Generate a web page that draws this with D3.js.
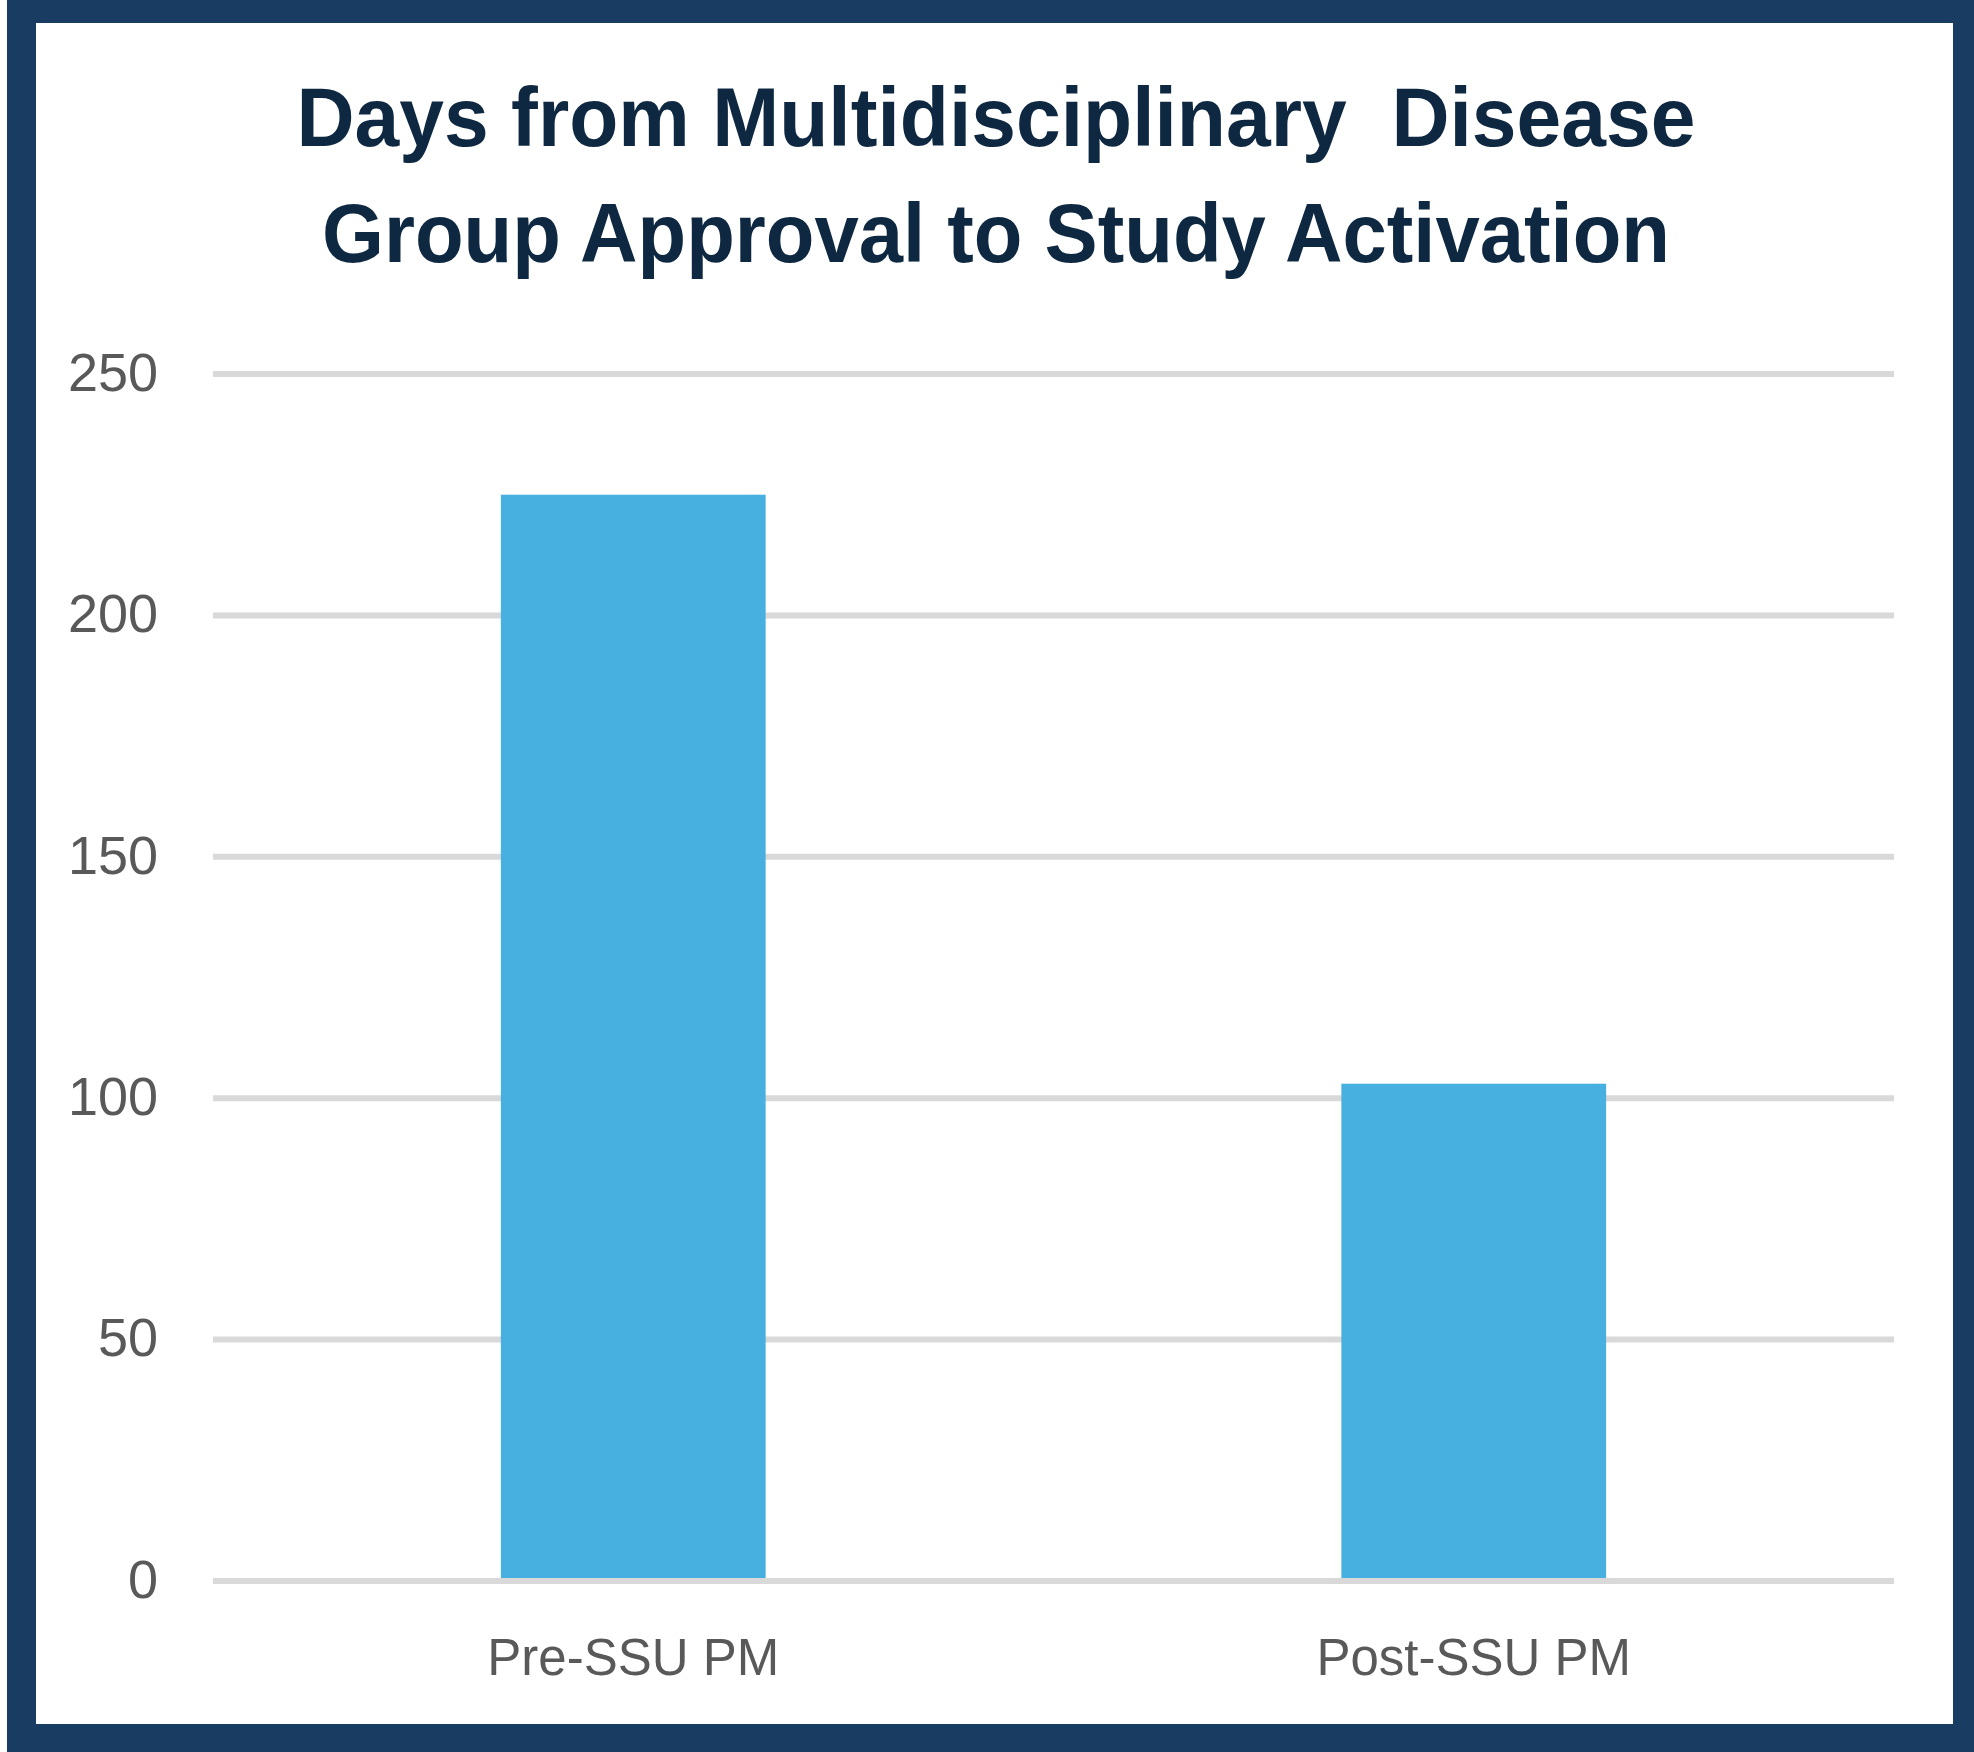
<!DOCTYPE html>
<html>
<head>
<meta charset="utf-8">
<script src="https://cdn.jsdelivr.net/npm/d3@7"></script>
<style>
  html, body { margin: 0; padding: 0; background: #ffffff; }
</style>
</head>
<body>
<div id="plot"></div>
<script>
const categories = ['Pre-SSU PM', 'Post-SSU PM'];
const days = [225, 103];
const yTicks = [0, 50, 100, 150, 200, 250];
const titleLines = ['Days from Multidisciplinary  Disease', 'Group Approval to Study Activation'];
const titleWidths = [1399, 1348];

const width = 1974;
const height = 1752;
const margin = { top: 374, right: 80, bottom: 171, left: 213 };

const svg = d3.select("#plot").append("svg")
  .attr("width", width)
  .attr("height", height);

// frame
svg.append("rect")
  .attr("x", 7).attr("y", 0)
  .attr("width", width - 7).attr("height", height)
  .attr("fill", "#183c62");

svg.append("rect")
  .attr("x", 36).attr("y", 23)
  .attr("width", 1953 - 36).attr("height", 1724 - 23)
  .attr("fill", "#ffffff");

const xScale = d3.scaleBand()
  .domain(categories)
  .range([margin.left, width - margin.right])
  .paddingInner(0.685)
  .paddingOuter(0.3425);

const yScale = d3.scaleLinear()
  .domain([0, 250])
  .range([height - margin.bottom, margin.top]);

// gridlines
svg.append("g")
  .selectAll("line")
  .data(yTicks)
  .enter()
  .append("line")
  .attr("x1", margin.left)
  .attr("x2", width - margin.right)
  .attr("y1", d => yScale(d))
  .attr("y2", d => yScale(d))
  .attr("stroke", "#d9d9d9")
  .attr("stroke-width", 6);

// bars
svg.append("g")
  .selectAll("rect")
  .data(categories)
  .enter()
  .append("rect")
  .attr("x", d => xScale(d))
  .attr("y", (d, i) => yScale(days[i]))
  .attr("width", xScale.bandwidth())
  .attr("height", (d, i) => yScale(0) - 3 - yScale(days[i]))
  .attr("fill", "#47b0e0");

// baseline on top of bars
svg.append("line")
  .attr("x1", margin.left)
  .attr("x2", width - margin.right)
  .attr("y1", yScale(0))
  .attr("y2", yScale(0))
  .attr("stroke", "#d9d9d9")
  .attr("stroke-width", 6);

// y axis labels
const yAxis = d3.axisLeft(yScale)
  .tickValues(yTicks)
  .tickSize(0)
  .tickPadding(55);

const yg = svg.append("g")
  .attr("transform", `translate(${margin.left}, 0)`)
  .call(yAxis);
yg.select(".domain").remove();
yg.selectAll("text")
  .attr("font-family", "Liberation Sans, Arial, sans-serif")
  .attr("font-size", 54)
  .attr("fill", "#595959")
  .attr("dy", "0.3em");

// x axis labels
const xAxis = d3.axisBottom(xScale)
  .tickSize(0)
  .tickPadding(58);

const xg = svg.append("g")
  .attr("transform", `translate(0, ${yScale(0)})`)
  .call(xAxis);
xg.select(".domain").remove();
xg.selectAll("text")
  .attr("font-family", "Liberation Sans, Arial, sans-serif")
  .attr("font-size", 51)
  .attr("fill", "#595959");

// title
svg.append("g")
  .selectAll("text")
  .data(titleLines)
  .enter()
  .append("text")
  .attr("x", 996)
  .attr("y", (d, i) => 146 + i * 116)
  .attr("text-anchor", "middle")
  .attr("font-family", "Liberation Sans, Arial, sans-serif")
  .attr("font-weight", "bold")
  .attr("font-size", 84)
  .attr("fill", "#0e2841")
  .attr("textLength", (d, i) => titleWidths[i])
  .attr("lengthAdjust", "spacingAndGlyphs")
  .style("white-space", "pre")
  .text(d => d);
</script>
</body>
</html>
